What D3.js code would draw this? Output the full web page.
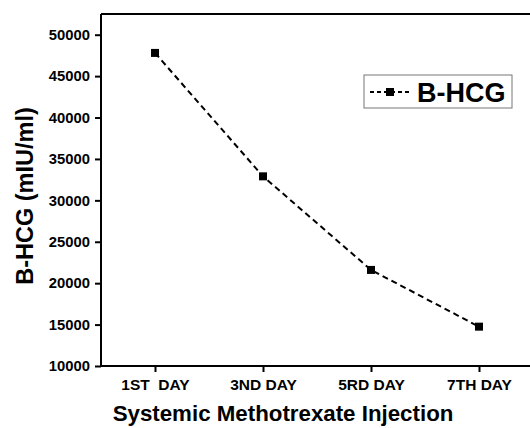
<!DOCTYPE html>
<html><head><meta charset="utf-8">
<script src="https://cdn.jsdelivr.net/npm/d3@7"></script>
<style>
html,body{margin:0;padding:0;background:#fff;}
text{font-family:"Liberation Sans",Arial,sans-serif;font-weight:bold;fill:#000;}
</style></head>
<body>
<svg id="c" width="530" height="428"></svg>
<script>
const categories = ["1ST  DAY", "3ND DAY", "5RD DAY", "7TH DAY"];
const values = [47800, 32900, 21600, 14750];
const yTicks = [10000, 15000, 20000, 25000, 30000, 35000, 40000, 45000, 50000];
const seriesName = "B-HCG";

const svg = d3.select("#c");
const L = 101, R = 533, T = 14, B = 366;

const x = d3.scaleLinear().domain([-0.5, 3.5]).range([L, R]);
const y = d3.scaleLinear().domain([10000, 52500]).range([B, T]);

// top spine
svg.append("line").attr("x1", L).attr("x2", 530).attr("y1", T).attr("y2", T)
  .attr("stroke", "#000").attr("stroke-width", 2);

// y axis
const ya = svg.append("g").attr("transform", `translate(${L},0)`)
  .call(d3.axisLeft(y).tickValues(yTicks).tickSize(6).tickPadding(5).tickFormat(d3.format("d")));
ya.select(".domain").attr("stroke-width", 2).attr("d", `M0,${B}V${T}`);
ya.selectAll(".tick line").attr("stroke-width", 2);
ya.selectAll(".tick text").style("font-size", "14.8px");

// x axis
const xa = svg.append("g").attr("transform", `translate(0,${B})`)
  .call(d3.axisBottom(x).tickValues(d3.range(categories.length)).tickSize(6).tickPadding(7)
    .tickFormat(i => categories[i]));
xa.select(".domain").attr("stroke-width", 2).attr("d", `M${L},0H530`);
xa.selectAll(".tick line").attr("stroke-width", 2);
xa.selectAll(".tick text").style("font-size", "15.5px").style("white-space", "pre");

// line
const line = d3.line().x((d, i) => x(i)).y(d => y(d));
svg.append("path").datum(values).attr("d", line)
  .attr("fill", "none").attr("stroke", "#000").attr("stroke-width", 2)
  .attr("stroke-dasharray", "6,4");

svg.selectAll("rect.pt").data(values).enter().append("rect").attr("class", "pt")
  .attr("x", (d, i) => x(i) - 4).attr("y", d => y(d) - 4)
  .attr("width", 8).attr("height", 8).attr("fill", "#000");

// axis titles
svg.append("text").attr("transform", `translate(33,196) rotate(-90)`)
  .attr("text-anchor", "middle").style("font-size", "23.5px").text("B-HCG (mIU/ml)");
svg.append("text").attr("x", 283).attr("y", 421)
  .attr("text-anchor", "middle").style("font-size", "22.3px").text("Systemic Methotrexate Injection");

// legend
const lg = svg.append("g");
lg.append("rect").attr("x", 364).attr("y", 75).attr("width", 148).attr("height", 33)
  .attr("fill", "#fff").attr("stroke", "#777").attr("stroke-width", 1);
lg.append("line").attr("x1", 370).attr("x2", 410).attr("y1", 92).attr("y2", 92)
  .attr("stroke", "#000").attr("stroke-width", 2).attr("stroke-dasharray", "4,3");
lg.append("rect").attr("x", 386).attr("y", 88).attr("width", 8).attr("height", 8).attr("fill", "#000");
lg.append("text").attr("x", 417).attr("y", 102).style("font-size", "27px").text(seriesName);
</script>
</body></html>
